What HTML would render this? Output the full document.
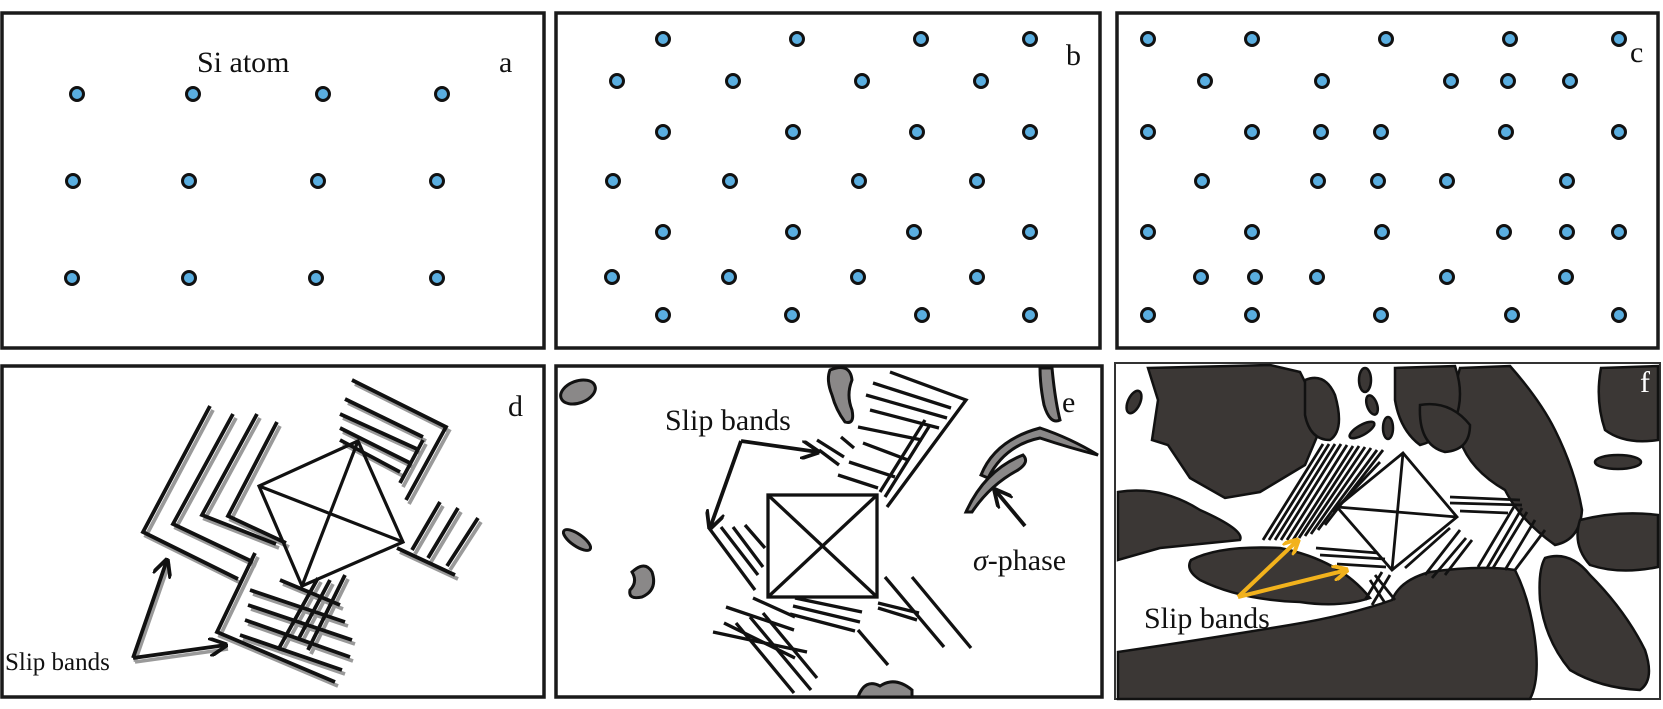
<!DOCTYPE html>
<html><head><meta charset="utf-8"><style>
html,body{margin:0;padding:0;background:#fff;}
svg{display:block;}
text{font-family:"Liberation Serif",serif;fill:#111;}
</style></head><body>
<svg width="1663" height="709" viewBox="0 0 1663 709" xmlns="http://www.w3.org/2000/svg">
<defs>
<marker id="ah" viewBox="0 0 10 10" refX="9" refY="5" markerWidth="5" markerHeight="5" orient="auto"><path d="M0,0 L10,5 L0,10" fill="none" stroke="#111" stroke-width="2"/></marker>
<marker id="ay" viewBox="0 0 10 10" refX="9" refY="5" markerWidth="4" markerHeight="4" orient="auto"><path d="M0,0 L10,5 L0,10" fill="none" stroke="#f2b21c" stroke-width="2.5"/></marker>
</defs>
<g fill="none" stroke="#1a1a1a" stroke-width="3.5">
<rect x="2" y="13" width="542" height="335"/>
<rect x="556" y="13" width="544" height="335"/>
<rect x="1117" y="13" width="541" height="335"/>
<rect x="2" y="366" width="542" height="331"/>
<rect x="556" y="366" width="546" height="331"/>
</g>
<g fill="#5aaee0" stroke="#111" stroke-width="3">
<circle cx="77" cy="94" r="6.5"/><circle cx="193" cy="94" r="6.5"/><circle cx="323" cy="94" r="6.5"/><circle cx="442" cy="94" r="6.5"/>
<circle cx="73" cy="181" r="6.5"/><circle cx="189" cy="181" r="6.5"/><circle cx="318" cy="181" r="6.5"/><circle cx="437" cy="181" r="6.5"/>
<circle cx="72" cy="278" r="6.5"/><circle cx="189" cy="278" r="6.5"/><circle cx="316" cy="278" r="6.5"/><circle cx="437" cy="278" r="6.5"/>
<circle cx="663" cy="39" r="6.5"/><circle cx="797" cy="39" r="6.5"/><circle cx="921" cy="39" r="6.5"/><circle cx="1030" cy="39" r="6.5"/>
<circle cx="617" cy="81" r="6.5"/><circle cx="733" cy="81" r="6.5"/><circle cx="862" cy="81" r="6.5"/><circle cx="981" cy="81" r="6.5"/>
<circle cx="663" cy="132" r="6.5"/><circle cx="793" cy="132" r="6.5"/><circle cx="917" cy="132" r="6.5"/><circle cx="1030" cy="132" r="6.5"/>
<circle cx="613" cy="181" r="6.5"/><circle cx="730" cy="181" r="6.5"/><circle cx="859" cy="181" r="6.5"/><circle cx="977" cy="181" r="6.5"/>
<circle cx="663" cy="232" r="6.5"/><circle cx="793" cy="232" r="6.5"/><circle cx="914" cy="232" r="6.5"/><circle cx="1030" cy="232" r="6.5"/>
<circle cx="612" cy="277" r="6.5"/><circle cx="729" cy="277" r="6.5"/><circle cx="858" cy="277" r="6.5"/><circle cx="977" cy="277" r="6.5"/>
<circle cx="663" cy="315" r="6.5"/><circle cx="792" cy="315" r="6.5"/><circle cx="922" cy="315" r="6.5"/><circle cx="1030" cy="315" r="6.5"/>
<circle cx="1148" cy="39" r="6.5"/><circle cx="1252" cy="39" r="6.5"/><circle cx="1386" cy="39" r="6.5"/><circle cx="1510" cy="39" r="6.5"/><circle cx="1619" cy="39" r="6.5"/>
<circle cx="1205" cy="81" r="6.5"/><circle cx="1322" cy="81" r="6.5"/><circle cx="1451" cy="81" r="6.5"/><circle cx="1508" cy="81" r="6.5"/><circle cx="1570" cy="81" r="6.5"/>
<circle cx="1148" cy="132" r="6.5"/><circle cx="1252" cy="132" r="6.5"/><circle cx="1321" cy="132" r="6.5"/><circle cx="1381" cy="132" r="6.5"/><circle cx="1506" cy="132" r="6.5"/><circle cx="1619" cy="132" r="6.5"/>
<circle cx="1202" cy="181" r="6.5"/><circle cx="1318" cy="181" r="6.5"/><circle cx="1378" cy="181" r="6.5"/><circle cx="1447" cy="181" r="6.5"/><circle cx="1567" cy="181" r="6.5"/>
<circle cx="1148" cy="232" r="6.5"/><circle cx="1252" cy="232" r="6.5"/><circle cx="1382" cy="232" r="6.5"/><circle cx="1504" cy="232" r="6.5"/><circle cx="1567" cy="232" r="6.5"/><circle cx="1619" cy="232" r="6.5"/>
<circle cx="1201" cy="277" r="6.5"/><circle cx="1255" cy="277" r="6.5"/><circle cx="1317" cy="277" r="6.5"/><circle cx="1447" cy="277" r="6.5"/><circle cx="1566" cy="277" r="6.5"/>
<circle cx="1148" cy="315" r="6.5"/><circle cx="1252" cy="315" r="6.5"/><circle cx="1381" cy="315" r="6.5"/><circle cx="1512" cy="315" r="6.5"/><circle cx="1619" cy="315" r="6.5"/>
</g>
<text x="197" y="72" font-size="30">Si atom</text>
<text x="499" y="72" font-size="30">a</text>
<text x="1066" y="65" font-size="30">b</text>
<text x="1630" y="62" font-size="30">c</text>

<g id="dl" fill="none" stroke-width="3.8" stroke-linejoin="miter">
<polyline points="210,406 143,532 238,579"/>
<polyline points="233,414 173,524 253,562"/>
<polyline points="257,414 202,515 276,544"/>
<polyline points="277,422 228,516 286,543"/>
<polyline points="352,380 446,427 406,500"/>
<line x1="345" y1="399" x2="423" y2="437"/><line x1="340" y1="414" x2="417" y2="449"/>
<line x1="340" y1="428" x2="410" y2="463"/><line x1="340" y1="440" x2="400" y2="472"/>
<line x1="400" y1="483" x2="423" y2="440"/>
<line x1="397" y1="548" x2="455" y2="575"/>
<line x1="412" y1="550" x2="440" y2="502"/><line x1="428" y1="558" x2="458" y2="508"/><line x1="447" y1="566" x2="478" y2="518"/>
<polyline points="255,553 217,632 335,682"/>
<line x1="280" y1="580" x2="340" y2="605"/><line x1="250" y1="590" x2="345" y2="622"/>
<line x1="248" y1="605" x2="352" y2="640"/><line x1="245" y1="620" x2="350" y2="657"/>
<line x1="240" y1="635" x2="342" y2="670"/>
<line x1="278" y1="650" x2="318" y2="578"/><line x1="298" y1="640" x2="330" y2="580"/><line x1="308" y1="650" x2="345" y2="575"/>
</g>
<use href="#dl" stroke="#9a9a9a" transform="translate(3,4)"/>
<use href="#dl" stroke="#111"/>
<g fill="none" stroke="#111" stroke-width="3.2">
<polygon points="358,441 259,486 302,586 403,542"/>
<line x1="259" y1="486" x2="403" y2="542"/><line x1="358" y1="441" x2="302" y2="586"/>
</g>
<g fill="none" stroke="#9a9a9a" stroke-width="3.5" transform="translate(2,4)">
<polyline points="133,658 167,560"/><polyline points="133,658 226,645"/>
</g>
<g fill="none" stroke="#111" stroke-width="3.8">
<polyline points="133,658 167,560" marker-end="url(#ah)"/><polyline points="133,658 226,645" marker-end="url(#ah)"/>
</g>
<text x="5" y="670" font-size="25">Slip bands</text>
<text x="508" y="416" font-size="30">d</text>

<g fill="#8a8888" stroke="#111" stroke-width="3">
<ellipse cx="578" cy="392" rx="18" ry="11" transform="rotate(-20 578 392)"/>
<ellipse cx="577" cy="540" rx="16" ry="6" transform="rotate(35 577 540)"/>
<path d="M632,572 Q645,560 652,572 Q658,590 642,597 Q628,600 630,590 Q638,582 632,572Z"/>
<path d="M830,370 Q850,362 852,380 Q846,395 852,410 Q855,425 845,422 Q836,410 832,395 Q826,380 830,370Z"/>
<path d="M858,697 Q865,678 880,686 Q895,676 912,690 L912,697Z"/>
<path d="M1040,368 L1052,368 Q1055,400 1060,420 Q1050,425 1044,405 Q1040,385 1040,368Z"/>
<path d="M981,475 Q995,440 1040,428 Q1070,438 1098,455 Q1070,448 1040,438 Q1005,445 988,478Z"/>
<path d="M966,512 Q985,470 1023,455 Q1030,462 1018,470 Q990,485 972,512Z"/>
</g>
<g fill="none" stroke="#111" stroke-width="3.3">
<rect x="768" y="495" width="109" height="102"/>
<line x1="768" y1="495" x2="877" y2="597"/><line x1="877" y1="495" x2="768" y2="597"/>
<polyline points="890,372 966,400 887,507"/>
<line x1="873" y1="383" x2="951" y2="408"/><line x1="866" y1="395" x2="947" y2="418"/>
<line x1="870" y1="410" x2="939" y2="428"/><line x1="858" y1="427" x2="922" y2="440"/>
<line x1="863" y1="443" x2="908" y2="460"/><line x1="849" y1="462" x2="895" y2="477"/>
<line x1="838" y1="475" x2="878" y2="488"/>
<line x1="817" y1="440" x2="844" y2="457"/><line x1="819" y1="450" x2="839" y2="465"/><line x1="841" y1="437" x2="854" y2="448"/>
<line x1="925" y1="420" x2="880" y2="492"/><line x1="930" y1="425" x2="885" y2="497"/>
<line x1="709" y1="528" x2="755" y2="590"/><line x1="721" y1="527" x2="758" y2="575"/>
<line x1="733" y1="527" x2="763" y2="567"/><line x1="745" y1="525" x2="765" y2="548"/>
<line x1="753" y1="598" x2="795" y2="617"/><line x1="726" y1="607" x2="794" y2="630"/>
<line x1="713" y1="632" x2="807" y2="652"/><line x1="724" y1="623" x2="795" y2="658"/>
<line x1="736" y1="623" x2="794" y2="693"/><line x1="750" y1="617" x2="811" y2="690"/>
<line x1="763" y1="613" x2="817" y2="678"/>
<line x1="795" y1="598" x2="862" y2="612"/><line x1="793" y1="606" x2="860" y2="622"/>
<line x1="790" y1="614" x2="855" y2="631"/><line x1="858" y1="630" x2="888" y2="665"/>
<line x1="885" y1="577" x2="944" y2="647"/><line x1="912" y1="577" x2="971" y2="648"/>
<line x1="878" y1="603" x2="919" y2="613"/><line x1="878" y1="608" x2="917" y2="620"/>
</g>
<g fill="none" stroke="#111" stroke-width="3.8">
<polyline points="741,441 818,452" marker-end="url(#ah)"/>
<polyline points="741,441 710,528" marker-end="url(#ah)"/>
<polyline points="1025,526 995,490" marker-end="url(#ah)"/>
</g>
<text x="665" y="430" font-size="30">Slip bands</text>
<text x="973" y="570" font-size="30"><tspan font-style="italic">σ</tspan>-phase</text>
<text x="1062" y="412" font-size="30">e</text>

<rect x="1115" y="363" width="545" height="336" fill="#fff" stroke="#333" stroke-width="2"/>
<g fill="#3b3735" stroke="#111" stroke-width="2.5">
<path d="M1148,368 L1270,365 L1300,372 L1324,420 L1305,465 L1260,492 L1225,498 L1190,478 L1168,445 L1152,440 L1158,400 Z"/>
<path d="M1118,492 Q1160,485 1200,510 Q1245,530 1240,540 Q1190,545 1160,548 L1118,560 Z"/>
<path d="M1191,560 Q1220,545 1280,548 Q1340,560 1370,598 Q1340,608 1300,602 Q1240,600 1200,580 Q1185,570 1191,560Z"/>
<path d="M1118,652 Q1200,640 1290,625 Q1350,615 1392,600 Q1400,580 1430,572 Q1480,565 1515,570 Q1530,600 1535,640 Q1540,680 1530,699 L1118,699 Z"/>
<path d="M1460,368 L1510,366 Q1540,400 1555,430 Q1575,470 1582,510 Q1580,540 1555,545 Q1520,520 1505,490 Q1470,470 1460,440 Q1450,400 1460,368Z"/>
<path d="M1601,368 L1658,366 L1658,440 Q1625,445 1605,430 Q1595,400 1601,368Z"/>
<path d="M1580,520 Q1620,510 1658,515 L1658,567 Q1620,575 1590,565 Q1572,545 1580,520Z"/>
<path d="M1545,558 Q1570,550 1590,575 Q1625,610 1645,650 Q1655,680 1640,690 Q1600,688 1570,670 Q1545,640 1540,600 Q1538,570 1545,558Z"/>
<ellipse cx="1618" cy="462" rx="23" ry="7"/>
<ellipse cx="1134" cy="402" rx="6" ry="12" transform="rotate(25 1134 402)"/>
<path d="M1305,380 Q1325,372 1335,395 Q1345,430 1330,440 Q1310,440 1305,415Z"/>
<path d="M1395,368 L1455,366 Q1465,395 1455,420 Q1440,440 1420,445 Q1400,430 1395,400Z"/>
<path d="M1420,405 Q1450,400 1470,425 Q1470,450 1445,452 Q1418,445 1420,405Z"/>
<ellipse cx="1365" cy="380" rx="6" ry="12"/>
<ellipse cx="1372" cy="405" rx="5" ry="10" transform="rotate(-20 1372 405)"/>
<ellipse cx="1362" cy="430" rx="14" ry="5" transform="rotate(-30 1362 430)"/>
<ellipse cx="1388" cy="428" rx="5" ry="11"/>
</g>
<g fill="none" stroke="#111" stroke-width="2.8">
<polygon points="1403,453 1337,507 1392,570 1457,517"/>
<line x1="1337" y1="507" x2="1457" y2="517"/><line x1="1403" y1="453" x2="1392" y2="570"/>
<line x1="1263" y1="540" x2="1323" y2="444"/><line x1="1269" y1="540" x2="1329" y2="444"/>
<line x1="1275" y1="540" x2="1335" y2="444"/><line x1="1281" y1="540" x2="1341" y2="444"/>
<line x1="1287" y1="540" x2="1347" y2="445"/><line x1="1293" y1="540" x2="1353" y2="446"/>
<line x1="1299" y1="538" x2="1359" y2="446"/><line x1="1305" y1="536" x2="1365" y2="447"/>
<line x1="1311" y1="534" x2="1371" y2="448"/><line x1="1318" y1="530" x2="1377" y2="450"/>
<line x1="1325" y1="525" x2="1383" y2="450"/><line x1="1333" y1="512" x2="1380" y2="462"/>
<line x1="1316" y1="548" x2="1378" y2="553"/><line x1="1320" y1="555" x2="1385" y2="559"/>
<line x1="1337" y1="564" x2="1386" y2="567"/>
<line x1="1450" y1="497" x2="1520" y2="500"/><line x1="1450" y1="503" x2="1522" y2="505"/>
<line x1="1460" y1="511" x2="1508" y2="513"/>
<line x1="1515" y1="505" x2="1478" y2="567"/><line x1="1522" y1="508" x2="1487" y2="568"/>
<line x1="1527" y1="512" x2="1493" y2="568"/><line x1="1535" y1="520" x2="1505" y2="570"/>
<line x1="1545" y1="530" x2="1515" y2="570"/>
<line x1="1450" y1="528" x2="1405" y2="568"/><line x1="1460" y1="530" x2="1425" y2="575"/>
<line x1="1466" y1="538" x2="1432" y2="578"/><line x1="1472" y1="540" x2="1445" y2="575"/>
<line x1="1375" y1="575" x2="1395" y2="600"/><line x1="1370" y1="580" x2="1385" y2="603"/>
<line x1="1382" y1="572" x2="1365" y2="600"/><line x1="1390" y1="575" x2="1372" y2="605"/>
</g>
<g fill="none" stroke="#f2b21c" stroke-width="4">
<polyline points="1238,597 1298,540" marker-end="url(#ay)"/>
<polyline points="1238,597 1347,570" marker-end="url(#ay)"/>
</g>
<text x="1144" y="628" font-size="30">Slip bands</text>
<text x="1640" y="392" font-size="30" style="fill:#fff">f</text>
</svg>
</body></html>
